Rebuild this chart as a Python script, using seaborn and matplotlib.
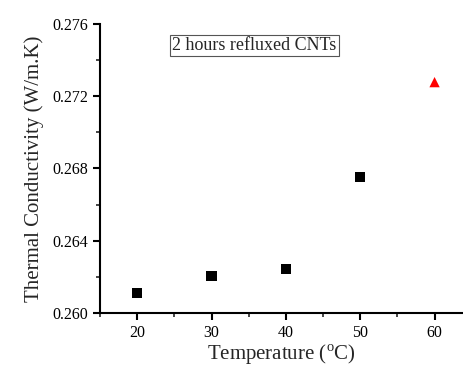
import matplotlib
matplotlib.use('Agg')
import matplotlib.pyplot as plt
import seaborn as sns
import pandas as pd
from matplotlib.ticker import MultipleLocator

# datos
temperatura = [20, 30, 40, 50, 60]
conductividad = [0.2611, 0.26205, 0.26243, 0.26752, 0.27278]
grupo = ['medido', 'medido', 'medido', 'medido', 'predicho']

df = pd.DataFrame({'T': temperatura, 'k': conductividad, 'g': grupo})

sns.set_style('white')
plt.rcParams['font.family'] = ['Liberation Serif', 'DejaVu Serif']
plt.rcParams['mathtext.fontset'] = 'custom'
plt.rcParams['mathtext.rm'] = 'Liberation Serif'

fig = plt.figure(figsize=(4.63, 3.69), dpi=100)
ax = fig.add_axes([0.216, 0.152, 0.782, 0.783])

sns.scatterplot(data=df, x='T', y='k', hue='g', style='g',
                palette={'medido': 'black', 'predicho': 'red'},
                markers={'medido': 's', 'predicho': '^'},
                s=55, edgecolor='none', legend=False, ax=ax)

ax.set_xlim(15, 63.7)
ax.set_ylim(0.260, 0.276)
ax.xaxis.set_major_locator(MultipleLocator(10))
ax.xaxis.set_minor_locator(MultipleLocator(5))
ax.yaxis.set_major_locator(MultipleLocator(0.004))
ax.yaxis.set_minor_locator(MultipleLocator(0.002))
ax.yaxis.set_major_formatter(plt.FormatStrFormatter('%.3f'))

for s in ['top', 'right']:
    ax.spines[s].set_visible(False)
for s in ['left', 'bottom']:
    ax.spines[s].set_linewidth(1.5)
    ax.spines[s].set_color('black')

ax.tick_params(which='major', direction='out', length=5, width=1.5, labelsize=11.5,
               bottom=True, left=True, colors='black')
ax.tick_params(which='minor', direction='out', length=3, width=1.2, bottom=True, left=True)

ax.set_xlabel('Temperature ($^{\\rm o}$C)', fontsize=15, labelpad=1)
ax.set_ylabel('Thermal Conductivity (W/m.K)', fontsize=15, labelpad=6)

ax.text(0.2, 0.955, '2 hours refluxed CNTs', transform=ax.transAxes,
        fontsize=13, va='top', ha='left',
        bbox=dict(facecolor='white', edgecolor='#555555', linewidth=0.8, pad=1.5))

fig.savefig('out.png', dpi=100)
